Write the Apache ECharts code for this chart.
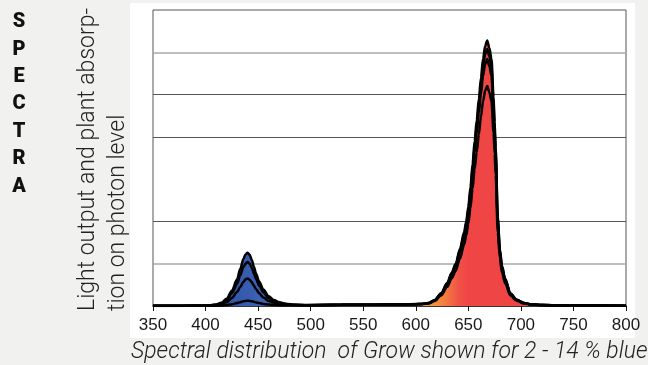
<!DOCTYPE html>
<html>
<head>
<meta charset="utf-8">
<script src="https://cdn.jsdelivr.net/npm/echarts@6/dist/echarts.min.js"></script>
<style>
html,body{margin:0;padding:0;background:#f1f1ef;}
#c{width:648px;height:365px;}
</style>
</head>
<body>
<div id="c"></div>
<script>
// wavelengths (nm)
var wavelengths = [350, 380, 400, 405, 410, 415, 420, 425, 430, 433, 436, 438, 440, 442, 444, 446, 448, 451, 455, 460, 465, 470, 476, 485, 495, 510, 530, 550, 570,
  590, 600, 606, 612, 618, 624, 630, 634, 638, 642, 646, 648, 650, 652, 654, 656, 658, 660, 662, 664, 666, 668, 670, 672, 674, 675, 676, 678, 680, 682, 685, 690, 696, 703, 710, 720, 740, 770, 800];

// spectra for 14 %, ~11 %, ~7 %, 2 % blue (relative photon level)
var blue14 = [0.003, 0.006, 0.012, 0.02, 0.035, 0.075, 0.17, 0.36, 0.63, 0.88, 1.11, 1.22, 1.26, 1.21, 1.09, 0.93, 0.77, 0.58, 0.39, 0.23, 0.14, 0.09, 0.055, 0.03, 0.022, 0.025, 0.03, 0.032, 0.033,
  0.035, 0.04, 0.045, 0.06, 0.116, 0.25, 0.455, 0.646, 0.828, 1.12, 1.45, 1.66, 1.95, 2.32, 2.77, 3.23, 3.64, 4.06, 4.47, 4.84, 5.09, 5.2, 5.05, 4.84, 4.1, 3.6, 3.1, 1.74, 1.12, 0.79, 0.54, 0.25, 0.124, 0.058, 0.033, 0.021, 0.012, 0.008, 0.007];
var blue11 = [0.003, 0.005, 0.01, 0.017, 0.03, 0.062, 0.14, 0.3, 0.52, 0.73, 0.92, 1.0, 1.04, 1.0, 0.9, 0.77, 0.64, 0.48, 0.32, 0.19, 0.115, 0.075, 0.045, 0.027, 0.02, 0.024, 0.03, 0.032, 0.033,
  0.037, 0.042, 0.047, 0.065, 0.13, 0.28, 0.51, 0.725, 0.93, 1.26, 1.63, 1.86, 2.19, 2.6, 3.12, 3.63, 4.09, 4.56, 5.02, 5.44, 5.72, 5.84, 5.67, 5.44, 4.6, 4.05, 3.49, 1.95, 1.26, 0.88, 0.6, 0.28, 0.14, 0.065, 0.037, 0.023, 0.014, 0.009, 0.007];
var blue7 = [0.003, 0.005, 0.008, 0.012, 0.02, 0.04, 0.09, 0.19, 0.33, 0.45, 0.57, 0.63, 0.65, 0.62, 0.56, 0.48, 0.4, 0.3, 0.2, 0.12, 0.075, 0.05, 0.035, 0.025, 0.018, 0.023, 0.03, 0.032, 0.033,
  0.039, 0.044, 0.048, 0.068, 0.136, 0.29, 0.53, 0.755, 0.968, 1.31, 1.69, 1.94, 2.27, 2.71, 3.24, 3.78, 4.26, 4.74, 5.23, 5.66, 5.95, 6.08, 5.9, 5.66, 4.79, 4.21, 3.63, 2.03, 1.31, 0.92, 0.63, 0.29, 0.145, 0.068, 0.039, 0.024, 0.015, 0.01, 0.008];
var blue2 = [0.002, 0.003, 0.004, 0.005, 0.007, 0.01, 0.02, 0.04, 0.07, 0.09, 0.11, 0.12, 0.125, 0.12, 0.11, 0.1, 0.085, 0.07, 0.05, 0.035, 0.025, 0.02, 0.017, 0.015, 0.015, 0.022, 0.03, 0.032, 0.033,
  0.04, 0.045, 0.05, 0.07, 0.14, 0.3, 0.55, 0.78, 1.0, 1.35, 1.75, 2.0, 2.35, 2.8, 3.35, 3.9, 4.4, 4.9, 5.4, 5.85, 6.15, 6.28, 6.1, 5.85, 4.95, 4.35, 3.75, 2.1, 1.35, 0.95, 0.65, 0.3, 0.15, 0.07, 0.04, 0.025, 0.015, 0.01, 0.008];

var seriesValues = [blue14, blue11, blue7, blue2];
var xTicks = [350, 400, 450, 500, 550, 600, 650, 700, 750, 800];
var gridValues = [1, 2, 4, 5, 6];
var gridColors = ['#a9a9a9', '#555555', '#555555', '#555555', '#a9a9a9'];

// spectral colour of the fill, by wavelength
var fillStops = [
  [350, '#2c50a0'], [400, '#2c52a6'], [430, '#3358ac'], [450, '#3b60b4'], [470, '#4468b8'],
  [490, '#3a7aa8'], [510, '#2e9060'], [535, '#3aa040'], [560, '#7ab428'], [585, '#b8b428'],
  [600, '#dcae2c'], [615, '#f29a38'], [628, '#f47c40'], [640, '#f05446'], [650, '#ef4545'], [800, '#ef4545']
];

var chart = echarts.init(document.getElementById('c'), null, {renderer: 'canvas'});

function pairs(vals) {
  return wavelengths.map(function (w, i) { return [w, vals[i]]; });
}
var grad = new echarts.graphic.LinearGradient(0, 0, 1, 0,
  fillStops.map(function (s) { return {offset: (s[0] - 350) / 450, color: s[1]}; }));

var series = [];
// grid lines
series.push({
  type: 'line', data: [], silent: true,
  markLine: {
    silent: true, symbol: 'none', z: 1, animation: false,
    label: {show: false},
    data: gridValues.map(function (v, i) {
      return {yAxis: v, lineStyle: {color: gridColors[i], width: gridColors[i] === '#a9a9a9' ? 1.6 : 1.2, type: 'solid'}};
    })
  }
});
seriesValues.forEach(function (vals) {
  series.push({
    type: 'line', data: pairs(vals), symbol: 'none', smooth: 0.3, smoothMonotone: 'x',
    lineStyle: {width: 0, opacity: 0}, areaStyle: {color: grad, opacity: 1}, z: 10, animation: false
  });
});
seriesValues.forEach(function (vals) {
  series.push({
    type: 'line', data: pairs(vals), symbol: 'none', smooth: 0.3, smoothMonotone: 'x',
    lineStyle: {width: 2.5, color: '#000'}, z: 11, animation: false
  });
});

var spectra = 'SPECTRA'.split('');
var graphics = [
  {type: 'rect', shape: {x: 130, y: 3, width: 505, height: 335}, style: {fill: '#ffffff'}, z: -10, silent: true}
];
spectra.forEach(function (ch, i) {
  graphics.push({
    type: 'text', x: 19, y: 22 + i * 27.4, scaleY: 1.05,
    style: {text: ch, fontSize: 20, fontWeight: 900, fontFamily: 'Roboto', fill: '#111', align: 'center', verticalAlign: 'middle'}
  });
});
graphics.push({
  type: 'text', x: 88, y: 311, rotation: Math.PI / 2,
  style: {text: 'Light output and plant absorp-', fontSize: 23, fontWeight: 300, fontFamily: 'Roboto', fill: '#222', align: 'left', verticalAlign: 'middle'}
});
graphics.push({
  type: 'text', x: 118, y: 311, rotation: Math.PI / 2,
  style: {text: 'tion on photon level', fontSize: 23, fontWeight: 300, fontFamily: 'Roboto', fill: '#222', align: 'left', verticalAlign: 'middle'}
});
graphics.push({
  type: 'text', x: 131, y: 352,
  style: {text: 'Spectral distribution  of Grow shown for 2 - 14 % blue', fontSize: 23, fontStyle: 'italic', fontWeight: 300, fontFamily: 'Roboto', fill: '#222', align: 'left', verticalAlign: 'middle'}
});

chart.setOption({
  animation: false,
  backgroundColor: '#f1f1ef',
  grid: {left: 153, right: 22, top: 10, bottom: 59, show: true, borderColor: '#555', borderWidth: 1, backgroundColor: 'rgba(0,0,0,0)'},
  xAxis: {
    type: 'value', min: 350, max: 800, interval: 50,
    axisLine: {show: true, lineStyle: {color: '#111', width: 1.5}},
    axisTick: {show: true, length: 5, lineStyle: {color: '#111'}},
    axisLabel: {fontSize: 17, color: '#1a1a1a', fontFamily: 'Liberation Sans', margin: 11,
      formatter: function (v) { return xTicks.indexOf(v) >= 0 ? String(v) : ''; }},
    splitLine: {show: false}
  },
  yAxis: {
    type: 'value', min: 0, max: 7, interval: 1,
    axisLine: {show: false}, axisTick: {show: false}, axisLabel: {show: false}, splitLine: {show: false}
  },
  graphic: graphics,
  series: series
});
</script>
</body>
</html>
